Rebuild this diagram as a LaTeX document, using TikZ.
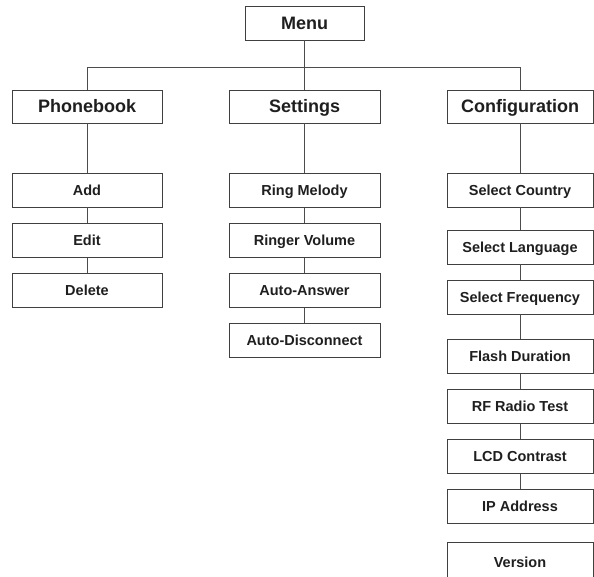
\documentclass[tikz,border=0pt]{standalone}
\usepackage{fontspec}
\setmainfont{Liberation Sans}
\begin{document}
\begin{tikzpicture}[x=1pt,y=-1pt,
  boxbase/.style={draw=black!75, line width=0.8pt, fill=white, inner sep=0pt,
    text=black!88, text depth=0pt},
  topbox/.style={boxbase, font=\fontsize{18}{20}\selectfont\bfseries, text height=13pt, minimum height=33pt},
  subbox/.style={boxbase, font=\fontsize{14.5}{16}\selectfont\bfseries, text height=10.5pt, minimum height=34pt},
  phbox/.style={subbox, minimum width=150pt},
  stbox/.style={subbox, minimum width=151pt},
  cfbox/.style={subbox, minimum width=146pt},
  link/.style={draw=black!70, line width=0.8pt}]
\useasboundingbox (0,0) rectangle (594,577);
\clip (0,0) rectangle (594,577);
% top level
\node[topbox, minimum width=119pt, minimum height=34pt] (menu) at (304.5,23) {Menu};
\node[topbox, minimum width=150pt] (phonebook) at (87,106.5) {Phonebook};
\node[topbox, minimum width=151pt] (settings) at (304.5,106.5) {Settings};
\node[topbox, minimum width=146pt] (config) at (520,106.5) {Configuration};
\coordinate (bus) at (0,67);
% phonebook column
\node[phbox] (add) at (87,190) {Add};
\node[phbox] (edit) at (87,240.5) {Edit};
\node[phbox] (delete) at (87,290.5) {Delete};
% settings column
\node[stbox] (ring) at (304.5,190.5) {Ring Melody};
\node[stbox] (vol) at (304.5,240.5) {Ringer Volume};
\node[stbox] (answer) at (304.5,290.5) {Auto-Answer};
\node[stbox] (disc) at (304.5,340.5) {Auto-Disconnect};
% configuration column
\node[cfbox] (country) at (520,190) {Select Country};
\node[cfbox] (lang) at (520,247) {Select Language};
\node[cfbox] (freq) at (520,297) {Select Frequency};
\node[cfbox] (flash) at (520,356.5) {Flash Duration};
\node[cfbox] (rf) at (520,406.5) {RF Radio Test};
\node[cfbox] (lcd) at (520,456.5) {LCD Contrast};
\node[cfbox] (ip) at (520,506.5) {IP Address};
\node[cfbox, minimum height=40pt] (version) at (520,562) {Version};
% connectors
\draw[link] (menu.south) -- (settings.north);
\draw[link] (phonebook.north) -- (phonebook.north |- bus) -- (config.north |- bus) -- (config.north);
\draw[link] (phonebook) -- (add);
\draw[link] (add) -- (edit);
\draw[link] (edit) -- (delete);
\draw[link] (settings) -- (ring);
\draw[link] (ring) -- (vol);
\draw[link] (vol) -- (answer);
\draw[link] (answer) -- (disc);
\draw[link] (config) -- (country);
\draw[link] (country) -- (lang);
\draw[link] (lang) -- (freq);
\draw[link] (freq) -- (flash);
\draw[link] (flash) -- (rf);
\draw[link] (rf) -- (lcd);
\draw[link] (lcd) -- (ip);
\end{tikzpicture}
\end{document}
